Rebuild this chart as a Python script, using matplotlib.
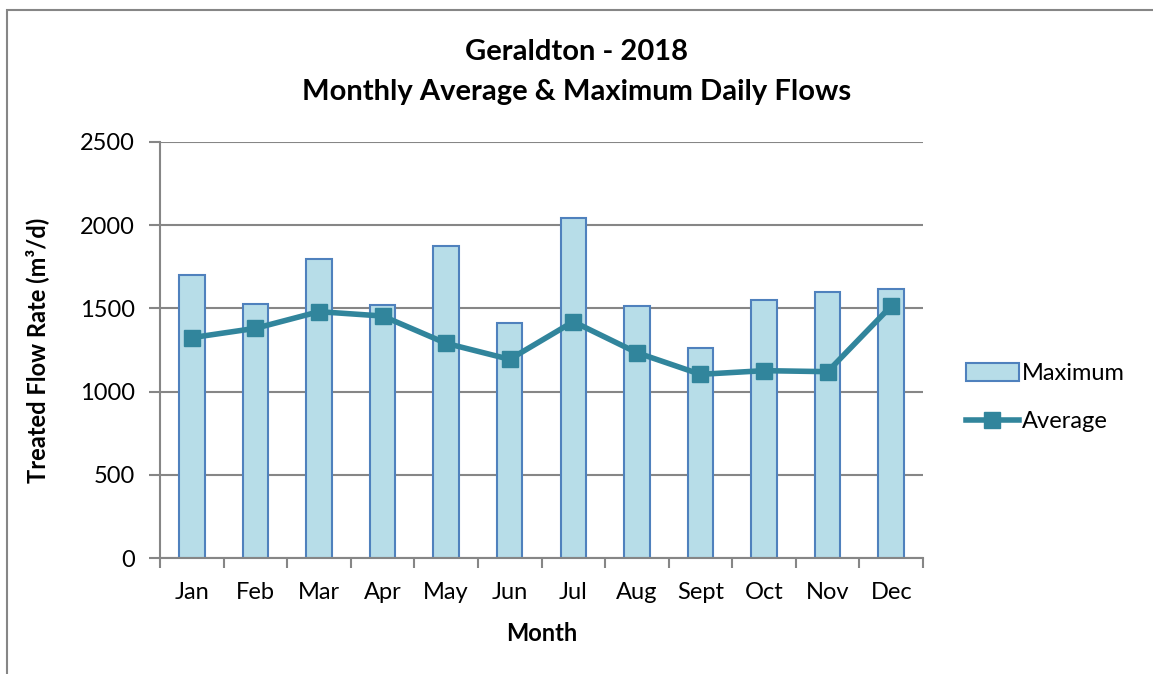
import matplotlib
matplotlib.use("Agg")
import matplotlib.pyplot as plt
from matplotlib.patches import Rectangle
import numpy as np

months = ["Jan", "Feb", "Mar", "Apr", "May", "Jun", "Jul", "Aug", "Sept", "Oct", "Nov", "Dec"]
maximum = [1700, 1526, 1794, 1522, 1876, 1414, 2040, 1514, 1260, 1550, 1598, 1616]
average = [1324, 1380, 1480, 1454, 1290, 1194, 1420, 1234, 1104, 1126, 1120, 1514]
yticks = [0, 500, 1000, 1500, 2000, 2500]

plt.rcParams['font.family'] = ['Lato', 'DejaVu Sans']

W, H = 1153, 674
fig = plt.figure(figsize=(W / 100, H / 100), dpi=100)
ax = fig.add_axes([160 / W, 1 - 558.3 / H, (923 - 160) / W, (558.3 - 141.7) / H])

x = np.arange(len(months))
ax.bar(x, maximum, width=0.4, color="#b7dde8", edgecolor="#4f81bd", linewidth=1.5,
       label="Maximum", zorder=2)
ax.plot(x, average, color="#31859c", linewidth=4, marker="s", markersize=12,
        label="Average", zorder=3)

ax.set_xlim(-0.5, len(months) - 0.5)
ax.set_ylim(0, 2500)
ax.set_yticks(yticks)
ax.set_yticklabels([str(v) for v in yticks], fontsize=17)
ax.set_xticks(x)
ax.set_xticklabels(months, fontsize=17)
ax.tick_params(axis='x', length=0, pad=17)
ax.set_xticks(np.arange(-0.5, len(months), 1), minor=True)
ax.tick_params(axis='x', which='minor', length=7, width=1.5, color="#868686", direction='out')
ax.tick_params(axis='y', length=8, width=1.5, color="#868686", direction='out', pad=10)

ax.grid(axis='y', color="#868686", linewidth=1.5, zorder=0)
ax.set_axisbelow(True)
for s in ['top', 'right']:
    ax.spines[s].set_visible(False)
for s in ['left', 'bottom']:
    ax.spines[s].set_color("#868686")
    ax.spines[s].set_linewidth(1.5)

ax.set_xlabel("Month", fontsize=17, fontweight='bold', labelpad=14)
ax.set_ylabel("Treated Flow Rate (m³/d)", fontsize=17, fontweight='bold', labelpad=22)

fig.text(0.5, 1 - 52 / H, "Geraldton - 2018", ha='center', va='center', fontsize=21, fontweight='bold')
fig.text(0.5, 1 - 92 / H, "Monthly Average & Maximum Daily Flows", ha='center', va='center',
         fontsize=21, fontweight='bold')

handles, labels = ax.get_legend_handles_labels()
order = [labels.index("Maximum"), labels.index("Average")]
leg = ax.legend([handles[i] for i in order], [labels[i] for i in order],
                loc='center left', bbox_to_anchor=(1.028, 0.385), frameon=False, fontsize=17,
                handlelength=2.25, handleheight=0.75, labelspacing=1.15, handletextpad=0.15)

# figure frame (top & left visible)
fig.patches.append(Rectangle((7 / W, -0.1), 1.2, 1 - 10 / H + 0.1, transform=fig.transFigure,
                             fill=False, edgecolor="#868686", linewidth=1.5))

fig.savefig("out.png", dpi=100)
